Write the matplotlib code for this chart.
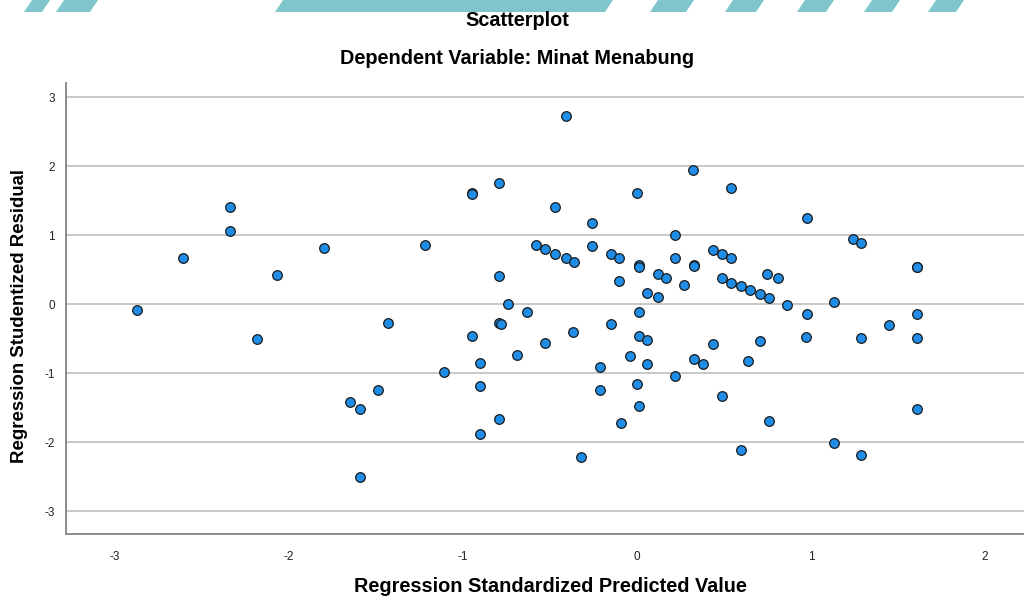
import matplotlib
matplotlib.use("Agg")
import matplotlib.pyplot as plt
from matplotlib.patches import Polygon

title = "Scatterplot"
subtitle = "Dependent Variable: Minat Menabung"
x_label = "Regression Standardized Predicted Value"
y_label = "Regression Studentized Residual"
x_ticks = [-3, -2, -1, 0, 1, 2]
y_ticks = [-3, -2, -1, 0, 1, 2, 3]

pred = [-2.87, -2.61, -2.34, -2.34, -2.18, -2.07, -1.80, -1.65, -1.59, -1.49,
        -1.43, -1.59, -1.22, -1.11, -0.95, -0.95, -0.79, -0.95, -0.90, -0.90,
        -0.90, -0.79, -0.79, -0.78, -0.79, -0.74, -0.69, -0.63, -0.58, -0.53,
        -0.53, -0.47, -0.47, -0.41, -0.41, -0.36, -0.37, -0.32, -0.26, -0.26,
        -0.21, -0.21, -0.15, -0.15, -0.10, -0.10, -0.09, -0.04, 0.00, 0.01,
        0.01, 0.01, 0.01, 0.00, 0.01, 0.06, 0.06, 0.06, 0.12, 0.12,
        0.17, 0.22, 0.22, 0.22, 0.27, 0.32, 0.33, 0.33, 0.33, 0.38,
        0.44, 0.44, 0.49, 0.49, 0.49, 0.54, 0.54, 0.54, 0.60, 0.60,
        0.65, 0.64, 0.71, 0.71, 0.75, 0.76, 0.76, 0.81, 0.86, 0.98,
        0.98, 0.97, 1.13, 1.13, 1.24, 1.29, 1.29, 1.29, 1.45, 1.61,
        1.61, 1.61, 1.61, 1.61]
resid = [-0.09, 0.67, 1.41, 1.06, -0.50, 0.42, 0.81, -1.42, -1.52, -1.25,
         -0.28, -2.51, 0.86, -0.98, 1.61, 1.59, 1.75, -0.46, -0.85, -1.19,
         -1.88, 0.40, -0.28, -0.29, -1.67, 0.00, -0.74, -0.12, 0.85, 0.80,
         -0.57, 1.41, 0.73, 2.72, 0.67, 0.61, -0.40, -2.21, 1.18, 0.84,
         -0.92, -1.25, 0.72, -0.29, 0.67, 0.33, -1.73, -0.75, 1.61, 0.56,
         0.54, -0.12, -0.46, -1.16, -1.48, 0.16, -0.52, -0.87, 0.44, 0.10,
         0.38, 1.00, 0.66, -1.04, 0.27, 1.94, 0.56, 0.55, -0.80, -0.87,
         -0.58, 0.78, 0.72, 0.38, -1.33, 1.68, 0.66, 0.31, 0.26, -2.12,
         0.20, -0.82, 0.14, -0.54, 0.43, 0.09, -1.70, 0.37, -0.02, 1.25,
         -0.15, -0.48, 0.03, -2.02, 0.94, 0.88, -0.49, -2.19, -0.31, 0.54,
         0.54, -0.15, -0.49, -1.52]

W, H = 1024, 598
fig = plt.figure(figsize=(W / 100, H / 100), dpi=100)
fig.patch.set_facecolor("white")

# decorative teal banner (top) from the source page
teal = "#80c4cc"
def band(x0, x1, y0, y1, slant):
    pts = [(x0, y1), (x1, y1), (x1 + slant, y0), (x0 + slant, y0)]
    return Polygon([(px / W, 1 - py / H) for px, py in pts], closed=True,
                   transform=fig.transFigure, facecolor=teal, edgecolor="none", zorder=0)
for a, b in [(24, 42), (56, 90), (275, 605), (650, 686), (725, 756), (797, 826), (864, 892), (928, 956)]:
    fig.patches.append(band(a, b, 0, 12, 8))

ax = fig.add_axes([66 / W, (H - 534) / H, (W - 66) / W, (534 - 83) / H])
ax.scatter(pred, resid, s=48, facecolor="#1f8de6", edgecolor="#1a1a1a",
           linewidth=0.9, zorder=3)
ax.set_xlim(-3.28, 2.224)
ax.set_ylim(-3.333, 3.203)
ax.set_xticks(x_ticks)
ax.set_yticks(y_ticks)
ax.set_xticklabels([str(v) for v in x_ticks])
ax.set_yticklabels([str(v) for v in y_ticks])
ax.grid(axis="y", color="#c8c8c8", linewidth=1.4, zorder=1)
ax.set_axisbelow(True)
for s in ["top", "right"]:
    ax.spines[s].set_visible(False)
for s in ["left", "bottom"]:
    ax.spines[s].set_color("#8c8c8c")
    ax.spines[s].set_linewidth(1.4)
ax.tick_params(axis="both", length=0, labelsize=8.5, colors="#222222",
               labelfontfamily="Liberation Sans")
ax.tick_params(axis="x", pad=12)
ax.tick_params(axis="y", pad=8)

fig.text(517 / W, 1 - 20 / H, title, ha="center", va="center",
         fontsize=14.3, fontweight="bold", family="Liberation Sans")
fig.text(517 / W, 1 - 58 / H, subtitle, ha="center", va="center",
         fontsize=14.3, fontweight="bold", family="Liberation Sans")
fig.text(550 / W, 1 - 586 / H, x_label, ha="center", va="center",
         fontsize=14.3, fontweight="bold", family="Liberation Sans")
fig.text(20 / W, 1 - 316 / H, y_label, ha="center", va="center", rotation=90,
         fontsize=13.4, fontweight="bold", family="Liberation Sans")

fig.savefig("out.png", dpi=100, facecolor="white")
